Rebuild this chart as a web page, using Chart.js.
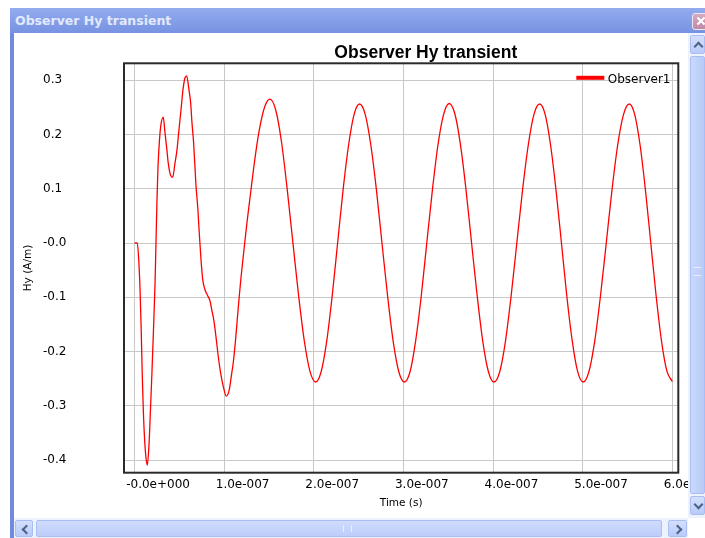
<!DOCTYPE html>
<html>
<head>
<meta charset="utf-8">
<title>Observer Hy transient</title>
<script src="https://cdn.jsdelivr.net/npm/chart.js@4.4.0/dist/chart.umd.min.js"></script>
<style>
body { margin: 0; width: 705px; height: 538px; background: #fff; overflow: hidden; position: relative; font-family: "DejaVu Sans", sans-serif; }
#cap { position: absolute; left: 10px; top: 8px; width: 695px; height: 25px; background: linear-gradient(#93acef, #7792e1); }
#cap span { position: absolute; left: 5px; top: 4px; color: #e2e9fd; font: bold 12.5px "DejaVu Sans", sans-serif; line-height: 17px; }
#close { position: absolute; left: 682px; top: 5px; width: 16px; height: 15px; border: 1px solid #efe6f3; border-radius: 3px; background: linear-gradient(#d6a9c1, #c08aa7); }
#close:before, #close:after { content: ""; position: absolute; left: 3px; top: 6px; width: 10px; height: 2px; background: #fff; transform: rotate(45deg); }
#close:after { transform: rotate(-45deg); }
#lborder { position: absolute; left: 10px; top: 33px; width: 4px; height: 505px; background: #7189de; }
#content { position: absolute; left: 14px; top: 33px; width: 674px; height: 485px; overflow: hidden; background: #fff; }
#content canvas { position: absolute; left: 0; top: 0; }
#vs { position: absolute; left: 688px; top: 33px; width: 17px; height: 485px; background: #eef2fc; }
#hs { position: absolute; left: 14px; top: 518px; width: 674px; height: 20px; background: #eef2fc; }
.btn, .thumb { position: absolute; box-sizing: border-box; border: 1px solid #a9bff4; border-radius: 2px; background: linear-gradient(#d4dffd, #b9cbf9); }
.btn i { position: absolute; left: 5px; top: 7px; width: 5px; height: 5px; border-top: 2px solid #4d6185; border-left: 2px solid #4d6185; }
#vs .up { left: 2px; top: 2px; width: 15px; height: 19px; }
#vs .up i { transform: rotate(45deg); top: 7px; left: 4px; }
#vs .down { left: 2px; top: 463px; width: 15px; height: 19px; }
#vs .down i { transform: rotate(225deg); top: 4px; left: 4px; }
#vs .thumb { left: 2px; top: 23px; width: 15px; height: 438px; background: linear-gradient(90deg, #c9d8fc, #b8cbf8); }
#hs .left { left: 1px; top: 2px; width: 18px; height: 17px; }
#hs .left i { transform: rotate(-45deg); left: 7px; top: 5px; }
#hs .right { left: 654px; top: 2px; width: 19px; height: 17px; }
#hs .right i { transform: rotate(135deg); left: 5px; top: 5px; }
#hs .thumb { left: 22px; top: 2px; width: 626px; height: 17px; background: linear-gradient(#d0dcfd, #bccdf9); }
#vs .thumb b { position: absolute; left: 3px; top: 210px; width: 7px; height: 7px; border-top: 1px solid #e8eefe; border-bottom: 1px solid #e8eefe; }
#hs .thumb b { position: absolute; left: 306px; top: 4px; width: 7px; height: 7px; border-left: 1px solid #e8eefe; border-right: 1px solid #e8eefe; }
</style>
</head>
<body>
<div id="cap"><span>Observer Hy transient</span><div id="close"></div></div>
<div id="lborder"></div>
<div id="content"><canvas id="chart" width="824" height="485"></canvas></div>
<div id="vs"><div class="btn up"><i></i></div><div class="thumb"><b></b></div><div class="btn down"><i></i></div></div>
<div id="hs"><div class="btn left"><i></i></div><div class="thumb"><b></b></div><div class="btn right"><i></i></div></div>
<script>
// time in ns, Hy in A/m
const timeNs = [
    0, 2.9, 4.5, 6.0, 7.3, 8.5, 9.8, 11.2, 12.6, 14.1,
    16.0, 17.6, 19.3, 21.0, 22.7, 23.8, 24.9, 26.0, 27.7, 29.4,
    31.9, 33.8, 36.0, 37.5, 40.0, 42.4, 45.0, 47.2, 49.4, 51.7,
    53.9, 56.1, 58.0, 60.6, 62.5, 63.9, 65.8, 68.4, 70.6, 72.1,
    74.0, 76.0, 78.5, 81.5, 84.0, 85.9, 88.5, 90.7, 93.3, 96.0,
    98.9, 102.2, 105.6, 108.3, 110.0, 112.3, 114.5, 116.4, 118.3, 120.5,
    122.8, 125.5, 129.0, 132.5, 136.3, 140.0, 144.0, 147.5, 151.0,
    157.4, 163.8, 170.1, 176.5, 182.9, 189.3, 195.6, 202.0,
    208.1, 214.3, 220.4, 226.5, 232.6, 238.8, 244.9, 251.0,
    257.3, 263.5, 269.8, 276.0, 282.3, 288.5, 294.8, 301.0,
    307.3, 313.5, 319.8, 326.0, 332.3, 338.5, 344.8, 351.0,
    357.3, 363.5, 369.8, 376.0, 382.3, 388.5, 394.8, 401.0,
    407.4, 413.8, 420.1, 426.5, 432.9, 439.3, 445.6, 452.0,
    458.1, 464.1, 470.2, 476.3, 482.3, 488.4, 494.4, 500.5,
    506.9, 513.4, 519.8, 526.3, 532.7, 539.1, 545.6, 552.0,
    558.0, 564.0, 570.0, 576.0, 582.0, 588.0, 594.0, 600.0
];
const hyValues = [
    0, 0, -0.03, -0.085, -0.16, -0.245, -0.315, -0.365, -0.395, -0.409,
    -0.372, -0.308, -0.238, -0.160, -0.077, 0.0, 0.079, 0.138, 0.190, 0.219,
    0.232, 0.204, 0.171, 0.147, 0.125, 0.121, 0.147, 0.171, 0.208, 0.245,
    0.282, 0.304, 0.308, 0.282, 0.258, 0.223, 0.184, 0.107, 0.061, 0.018,
    -0.030, -0.068, -0.086, -0.097, -0.106, -0.122, -0.144, -0.172, -0.209, -0.240,
    -0.264, -0.282, -0.270, -0.240, -0.221, -0.184, -0.141, -0.104, -0.070, -0.035,
    0.0, 0.040, 0.087, 0.134, 0.180, 0.216, 0.245, 0.260, 0.265,
    0.245, 0.187, 0.101, 0.002, -0.096, -0.180, -0.236, -0.256,
    -0.237, -0.181, -0.098, 0.0, 0.098, 0.181, 0.237, 0.256,
    0.237, 0.181, 0.098, 0.0, -0.098, -0.181, -0.237, -0.256,
    -0.237, -0.181, -0.098, 0.0, 0.098, 0.181, 0.237, 0.257,
    0.238, 0.182, 0.098, 0.0, -0.098, -0.181, -0.237, -0.256,
    -0.237, -0.181, -0.098, 0.0, 0.098, 0.181, 0.237, 0.256,
    0.237, 0.181, 0.098, 0.0, -0.098, -0.181, -0.237, -0.256,
    -0.237, -0.181, -0.098, 0.0, 0.098, 0.181, 0.237, 0.256,
    0.237, 0.181, 0.098, 0.0, -0.098, -0.181, -0.236, -0.255
];
const xTickLabels = ['-0.0e+000', '1.0e-007', '2.0e-007', '3.0e-007', '4.0e-007', '5.0e-007', '6.0e-007'];
const yTickLabels = ['-0.4', '-0.3', '-0.2', '-0.1', '-0.0', '0.1', '0.2', '0.3'];
const seriesName = 'Observer1';
const chartTitle = 'Observer Hy transient';

var points = timeNs.map((t, i) => ({x: t, y: hyValues[i]}));

Chart.defaults.font.family = '"DejaVu Sans", sans-serif';
Chart.defaults.font.size = 12;
Chart.defaults.color = '#000';

// plot frame, title and the little legend inside the plot
var framePlugin = {
    id: 'frame',
    afterDraw(chart) {
        const ctx = chart.ctx;
        const a = chart.chartArea;
        const ds = chart.data.datasets[0];
        ctx.save();
        ctx.strokeStyle = '#2a2a2a';
        ctx.lineWidth = 2;
        ctx.strokeRect(a.left, a.top, a.right - a.left, a.bottom - a.top);

        ctx.fillStyle = '#000';
        ctx.font = 'bold 17.5px "Liberation Sans", sans-serif';
        ctx.textAlign = 'center';
        ctx.textBaseline = 'alphabetic';
        ctx.fillText(chartTitle, 411.8, 24.5);

        ctx.strokeStyle = ds.borderColor;
        ctx.lineWidth = 4;
        ctx.beginPath();
        ctx.moveTo(a.right - 102, a.top + 14.5);
        ctx.lineTo(a.right - 74, a.top + 14.5);
        ctx.stroke();
        ctx.font = '12px "DejaVu Sans", sans-serif';
        ctx.textAlign = 'left';
        ctx.fillText(ds.label, a.right - 70.5, a.top + 19.5);
        ctx.restore();
    }
};

var ctx = document.getElementById('chart').getContext('2d');
var hyChart = new Chart(ctx, {
    type: 'line',
    data: {
        datasets: [{
            label: seriesName,
            data: points,
            borderColor: '#ff0000',
            backgroundColor: '#ff0000',
            borderWidth: 1.3,
            pointRadius: 0,
            fill: false,
            cubicInterpolationMode: 'monotone'
        }]
    },
    options: {
        responsive: false,
        animation: false,
        layout: { padding: { left: 29, top: 30.3, right: 159.7, bottom: 8.3 } },
        plugins: {
            legend: { display: false },
            title: { display: false },
            tooltip: { enabled: false }
        },
        scales: {
            x: {
                type: 'linear',
                min: -11.9,
                max: 606.7,
                grid: { color: '#c8c8c8', drawTicks: false },
                border: { display: false },
                ticks: {
                    stepSize: 100,
                    includeBounds: false,
                    autoSkip: false,
                    maxRotation: 0,
                    align: 'start',
                    labelOffset: -8.5,
                    padding: 5,
                    callback: v => xTickLabels[Math.round(v / 100)]
                },
                title: { display: true, text: 'Time (s)', font: { size: 10.5 }, padding: { top: 0, bottom: 0 } }
            },
            y: {
                min: -0.423,
                max: 0.331,
                afterFit: scale => { scale.width = 81; },
                grid: { color: '#c8c8c8', drawTicks: false },
                border: { display: false },
                ticks: {
                    stepSize: 0.1,
                    includeBounds: false,
                    crossAlign: 'far',
                    padding: 0,
                    callback: v => yTickLabels[Math.round(v * 10) + 4]
                },
                title: { display: true, text: 'Hy (A/m)', font: { size: 10.5 }, padding: { top: -21, bottom: 0 } }
            }
        }
    },
    plugins: [framePlugin]
});
</script>
</body>
</html>
